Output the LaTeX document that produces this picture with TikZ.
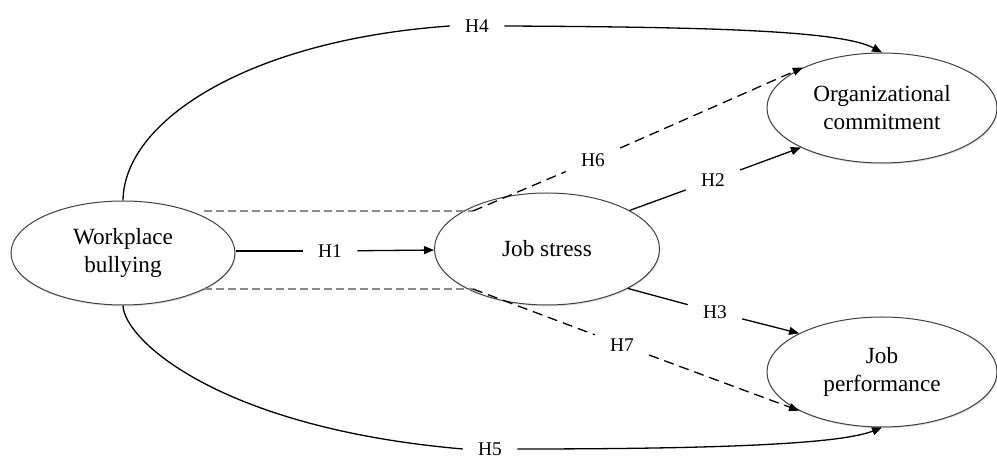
\documentclass[tikz,border=0pt]{standalone}
\usepackage{fontspec}
\setmainfont{Liberation Serif}
\usetikzlibrary{arrows.meta,shapes.geometric,shadows}
\begin{document}
\begin{tikzpicture}[x=0.5pt,y=-0.5pt,
  var/.style={ellipse, draw=black!75, line width=0.5pt, fill=white, inner sep=0pt, align=center,
    font=\fontsize{11.6}{14}\selectfont,
    drop shadow={shadow xshift=0.4pt, shadow yshift=-0.7pt, opacity=0.25}},
  hyp/.style={inner xsep=7.5pt, inner ysep=3pt, font=\fontsize{9.7}{11}\selectfont},
  link/.style={line width=0.65pt},
  arr/.style={link, -{Triangle[length=5pt,width=4pt]}},
  dlink/.style={link, dash pattern=on 5pt off 3pt},
  darr/.style={arr, dash pattern=on 5pt off 3pt},
  guide/.style={draw=black!45, line width=0.6pt, dash pattern=on 4pt off 2pt}
]
\useasboundingbox (0,0) rectangle (997,459);

\node[var, minimum width=112pt, minimum height=52pt] (wb) at (123,253) {Workplace\\bullying};
\node[var, minimum width=112.5pt, minimum height=56pt] (js) at (547,249) {Job stress};
\node[var, minimum width=115pt, minimum height=55pt] (oc) at (882,108) {Organizational\\commitment};
\node[var, minimum width=115pt, minimum height=55pt] (jp) at (882,372) {Job\\performance};

\node[hyp] (h1) at (330,251) {H1};
\node[hyp] (h2) at (713,180) {H2};
\node[hyp] (h3) at (715,312) {H3};
\node[hyp] (h4) at (477,26) {H4};
\node[hyp] (h5) at (490,449) {H5};
\node[hyp] (h6) at (593,160) {H6};
\node[hyp] (h7) at (622,345) {H7};

\coordinate (g1) at (204,211);
\coordinate (g2) at (473,211);
\coordinate (g3) at (204,289);
\coordinate (g4) at (473,289);

\draw[guide] (g1) -- (g2);
\draw[guide] (g3) -- (g4);

\draw[link] (wb.east |- h1) -- (h1);
\draw[arr] (h1) -- (js);
\draw[link] (js.25) -- (h2);
\draw[arr] (h2) -- (oc.206);
\draw[link] (js.-26) -- (h3);
\draw[arr] (h3) -- (jp.155);

\draw[link] (wb.north) .. controls (124,120) and (250,40) .. (h4.west);
\draw[arr] (h4.east) .. controls (700,27) and (840,30) .. (oc.north);
\draw[link] (wb.south) .. controls (124,340) and (220,428) .. (h5.west);
\draw[arr] (h5.east) .. controls (720,449) and (840,444) .. (jp.south);

\draw[dlink] (g2) -- (h6);
\draw[darr] (h6) -- (oc.153);
\draw[dlink] (g4) -- (h7);
\draw[darr] (h7) -- (jp.205);
\end{tikzpicture}
\end{document}
